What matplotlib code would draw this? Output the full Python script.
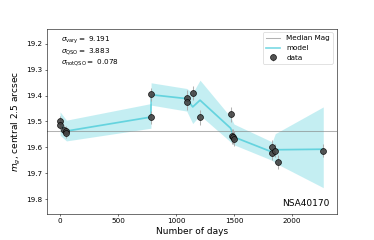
import numpy as np
import matplotlib
matplotlib.use("Agg")
import matplotlib.pyplot as plt

# observed light curve
days = [0, 2, 35, 55, 52, 784, 784, 1092, 1092, 1144, 1207, 1471, 1480, 1490, 1500,
        1830, 1830, 1856, 1882, 2270]
mags = [19.498, 19.512, 19.534, 19.537, 19.543, 19.395, 19.484, 19.408, 19.426, 19.39,
        19.483, 19.473, 19.557, 19.558, 19.566, 19.598, 19.622, 19.612, 19.657, 19.612]
errs = [0.02, 0.02, 0.02, 0.02, 0.02, 0.025, 0.025, 0.028, 0.028, 0.028, 0.029, 0.029,
        0.028, 0.028, 0.028, 0.026, 0.026, 0.026, 0.026, 0.026]

# model curve and its band
model_days = [0, 55, 784, 785, 1092, 1144, 1207, 1471, 1500, 1830, 1856, 2270]
model_mag = [19.51, 19.537, 19.483, 19.397, 19.412, 19.444, 19.418, 19.526, 19.56,
             19.618, 19.609, 19.607]
model_top = [19.463, 19.495, 19.431, 19.351, 19.373, 19.39, 19.341, 19.483, 19.51,
             19.579, 19.547, 19.444]
model_bot = [19.553, 19.575, 19.526, 19.437, 19.46, 19.508, 19.476, 19.579, 19.59,
             19.65, 19.66, 19.755]

sigma_vary = 9.191
sigma_qso = 3.883
sigma_notqso = 0.078
name = "NSA40170"

fig = plt.figure(figsize=(7.48, 4.8), dpi=50)
ax = fig.add_subplot(111)

ax.axhline(np.median(mags), color="gray", alpha=0.6, lw=1.5, label="Median Mag")
ax.fill_between(model_days, model_top, model_bot, color="C9", alpha=0.25, lw=0)
ax.plot(model_days, model_mag, color="C9", alpha=0.55, lw=2.5, label="model")
ax.errorbar(days, mags, yerr=errs, fmt="o", color="#444444", mec="k", ms=8.5,
            ecolor="#aaaaaa", elinewidth=1.5, alpha=0.9, label="data")

ax.set_ylim(19.855, 19.143)
ax.set_xlim(-115, 2385)
ax.set_yticks([19.2, 19.3, 19.4, 19.5, 19.6, 19.7, 19.8])
ax.set_xticks([0, 500, 1000, 1500, 2000])
ax.tick_params(labelsize=10.5)
ax.set_xlabel("Number of days", fontsize=13)
ax.set_ylabel(r"$m_g$, central 2.5 arcsec", fontsize=13)

ax.text(0.05, 0.939, r"$\sigma_{\rm vary} = $ %.3f" % sigma_vary, transform=ax.transAxes,
        fontsize=10.5, va="center")
ax.text(0.05, 0.875, r"$\sigma_{\rm QSO} = $ %.3f" % sigma_qso, transform=ax.transAxes,
        fontsize=10.5, va="center")
ax.text(0.05, 0.816, r"$\sigma_{\rm notQSO} = $ %.3f" % sigma_notqso, transform=ax.transAxes,
        fontsize=10.5, va="center")
ax.text(0.976, 0.056, name, transform=ax.transAxes, fontsize=13, ha="right", va="center")

ax.legend(loc="upper right", fontsize=10.5)

fig.savefig("out.png", dpi=50)
